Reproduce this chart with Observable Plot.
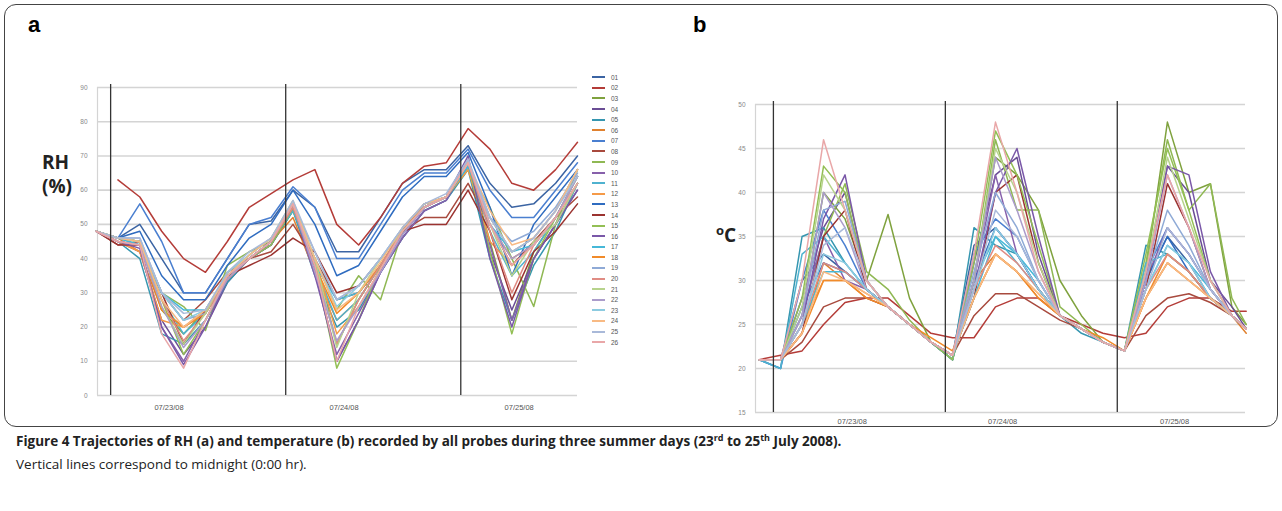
<!DOCTYPE html>
<html><head><meta charset="utf-8">
<script src="https://cdn.jsdelivr.net/npm/d3@7"></script>
<script src="https://cdn.jsdelivr.net/npm/@observablehq/plot@0.6"></script>
<style>
body{margin:0;width:1282px;height:511px;background:#fff;font-family:"Liberation Sans",Arial,sans-serif;position:relative;overflow:hidden}
.abs{position:absolute}
#frame{left:4px;top:4px;width:1272px;height:421px;border:1.5px solid #444;border-radius:12px}
.pl{font-weight:bold;font-size:22px}
.yl{font-family:"Open Sans",sans-serif;font-weight:bold;font-size:19px;line-height:24px;color:#222}
#legend{left:592px;top:72px;font-size:6.5px;color:#555}
#legend div{height:10.6px;display:flex;align-items:center}
#legend span.sw{display:inline-block;width:13px;height:2px;margin-right:6px}
#cap{left:16px;top:425px;font-family:"Open Sans",sans-serif;font-size:13.5px;color:#222;line-height:23px}
</style></head><body>
<div id="frame" class="abs"></div>
<div class="abs pl" style="left:28px;top:12px">a</div>
<div class="abs pl" style="left:693px;top:12px">b</div>
<div class="abs yl" style="left:42px;top:150px">RH<br>(%)</div>
<div class="abs yl" style="left:716px;top:218px"><sup style="font-size:13px">o</sup>C</div>
<div id="pa" class="abs" style="left:60px;top:60px"></div>
<div id="pb" class="abs" style="left:730px;top:90px"></div>
<div id="legend" class="abs"></div>
<div id="cap" class="abs"><b>Figure 4 Trajectories of RH (a) and temperature (b) recorded by all probes during three summer days (23<sup style="font-size:9px">rd</sup> to 25<sup style="font-size:9px">th</sup> July 2008).</b><br>Vertical lines correspond to midnight (0:00 hr).</div>
<script>
const probes = ["01","02","03","04","05","06","07","08","09","10","11","12","13","14","15","16","17","18","19","20","21","22","23","24","25","26"];
const colors = ["#3b64a3","#b43c38","#7fa23e","#6a4d95","#3596b0","#e0812f","#4a7fd0","#a84a3e","#8fb853","#8760ab","#4fb2cf","#f59a48","#2f6cc0","#9b3330","#93bf55","#7a58a8","#46b8d8","#f18b2a","#8faad6","#e08c84","#b7d38c","#ab9ccb","#8ccbe0","#f8ba84","#a9b9d9","#e9a7a8"];
const hoursA = [-2,1,4,7,10,13,16,19,22,25,28,31,34,37,40,43,46,49,52,55,58,61,64];
const rh = [
[48,46,50,40,30,30,40,50,51,60,55,42,42,52,62,66,66,73,62,55,56,62,70],
[null,63,58,48,40,36,45,55,59,63,66,50,44,52,62,67,68,78,72,62,60,66,74],
[48,46,45,25,18,25,35,40,44,54,40,15,28,38,48,55,58,68,45,22,42,52,62],
[48,45,42,22,12,20,33,40,44,55,38,10,22,36,46,54,57,67,42,25,40,50,60],
[48,45,40,18,15,22,33,40,44,54,35,20,25,36,46,54,57,66,40,22,38,48,62],
[48,46,42,25,20,24,34,40,45,52,36,22,28,38,48,56,58,68,50,40,44,52,64],
[48,46,56,45,30,30,40,50,52,61,55,40,40,50,60,65,65,72,60,52,52,60,68],
[48,44,45,30,22,28,36,40,42,50,40,28,30,38,48,52,52,62,50,38,45,52,58],
[48,46,45,30,26,19,38,42,45,54,40,25,35,28,48,56,58,66,55,40,26,50,66],
[48,45,44,20,10,22,34,40,44,55,35,12,24,36,46,54,57,68,44,22,40,50,62],
[48,46,44,28,18,24,34,40,45,54,38,22,28,38,48,55,58,67,48,35,42,52,64],
[48,45,42,22,20,25,34,40,45,55,40,18,26,37,48,55,58,66,45,38,44,52,62],
[48,46,48,35,28,28,38,46,50,60,50,35,38,48,58,64,64,71,55,35,50,58,66],
[48,44,44,30,15,25,35,38,41,46,42,30,32,40,48,50,50,60,48,28,42,48,56],
[48,46,45,28,12,22,35,40,44,55,38,8,22,38,48,55,58,68,42,18,40,52,64],
[48,45,43,20,9,20,34,40,45,56,36,10,22,36,47,55,58,70,40,20,40,50,60],
[48,46,44,30,25,25,35,40,45,56,38,28,30,38,48,55,58,67,50,42,44,52,64],
[48,46,45,25,20,24,34,40,45,55,38,24,30,38,48,56,58,68,52,42,46,54,66],
[48,46,46,30,22,24,35,41,46,56,42,28,32,40,49,56,58,68,52,45,48,55,65],
[48,45,44,28,16,24,34,40,45,55,38,15,28,38,48,55,58,68,48,30,44,52,64],
[48,46,45,26,15,24,36,41,46,57,40,14,30,40,48,55,58,69,50,35,45,50,62],
[48,45,44,26,14,22,34,40,45,56,36,16,26,36,47,55,58,69,50,40,44,52,64],
[48,46,45,30,22,25,36,41,46,56,40,26,32,40,49,56,58,68,52,42,46,54,66],
[48,46,45,28,20,25,35,41,46,56,40,25,30,39,49,56,58,68,54,44,46,54,66],
[48,46,46,30,24,25,36,42,46,57,42,28,32,40,49,56,59,69,52,42,46,54,64],
[48,45,44,18,8,22,35,40,45,56,38,10,26,37,48,55,58,68,50,38,44,52,62]];
const hoursB = [-2,1,4,7,10,13,16,19,22,25,28,31,34,37,40,43,46,49,52,55,58,61,64,66];
const temp = [
[21,21,30,33,31,29,27,25,23,21.5,34,36,33,29,26,24.5,23,22,30,35,32,28,26,24.5],
[21,21.5,22,25,27.5,28,28,26,24,23.5,23.5,27,28,28,26,25,24,23.5,24,27,28,28,26.5,26.5],
[21,21,26,40,37,30,37.5,28,23,21,30,44,42,38,30,26,23,22,31,48,40,41,27,25],
[21,21,28,36,40,30,27,25,23,21,32,42,44,33,26,24.5,23,22,30,43,40,30,27,24.5],
[21,20,35,36,32,29,27,25,23,21,36,34,33,29,26,24,23,22,34,33,31,28,26,24.5],
[21,21,24,32,30,28,27,25,23,21.5,30,33,31,28,26,24.5,23,22,28,32,30,28,26,24],
[21,20,30,38,34,29,27,25,23,21,33,37,35,30,26,24.5,23,22,31,36,33,29,26,24.5],
[21,21,23,27,28,28,27,25,23,21.5,26,28.5,28.5,27,25.5,24.5,23,22,26,28,28.5,27.5,26,24.5],
[21,21,26,35,41,31,29,25.5,23,21,30,46,38,38,27,25,23,22,32,46,38,41,28,25],
[21,21,26,35,30,29,27,25,23,21.5,30,42,33,29,26,24.5,23,22,30,36,33,29,26,24.5],
[21,20,33,35,32,29,27,25,23,21,30,35,32,29,26,24.5,23,22,32,33,31,28,26,24.5],
[21,21,25,30,30,28.5,27,25,23,21.5,28,33,31,28.5,26,24.5,23,22,28,32,30,28,26,24.5],
[21,21,27,32,31,29,27,25,23,21.5,30,36,33,29,26,24.5,23,22,30,35,31,28,26,24.5],
[21,21,24,35,38,29,27,25,23,21.5,28,40,42,32,26,24.5,23,22,29,41,36,29,26,24.5],
[21,21,28,43,40,30,27,25,23,21,32,47,42,34,26,24.5,23,22,33,45,38,30,26,24.5],
[21,21,25,37,42,30,27,25,23,21.5,29,40,45,35,26,24.5,23,22,30,43,42,31,26,24.5],
[21,21,25,31,31,29,27,25,23,21.5,28,35,33,30,26,24.5,23,22,29,34,32,29,26,24.5],
[21,21,24,30,30,28,27,25,23.5,22,28,33,31,28,26,24.5,23.5,22,28,33,31,28,26,24.5],
[21,21,26,38,39,30,27,25,23,21.5,31,40,36,30,26,24.5,23,22,30,38,34,29,26,24.5],
[21,21,25,32,31,29,27,25,23,21.5,29,34,32,29,26,24.5,23,22,29,33,31,28,26,24.5],
[21,21,27,42,38,30,27,25,23,21.5,30,45,40,32,26,24.5,23,22,31,44,37,30,26,24.5],
[21,21,26,40,36,29,27,25,23,21.5,30,44,38,31,26,24.5,23,22,30,42,36,29,26,24.5],
[21,21,25,33,32,29,27,25,23,21.5,29,36,33,29,26,24.5,23,22,29,34,32,28,26,24.5],
[21,21,24,31,30,28.5,27,25,23,21.5,28,33,31,28.5,26,24.5,23,22,28,32,30,28,26,24.5],
[21,21,25,34,36,30,27,25,23,21.5,29,38,35,30,26,24.5,23,22,29,36,33,29,26,24.5],
[21,21,30,46,38,30,27,25,23,21.5,33,48,40,31,26,24.5,23,22,31,42,36,30,26,24.5]];
const midnights = [0,24,48];
const dateLabels = ["07/23/08","07/24/08","07/25/08"];
const dateHoursA = [8,32,56];
const dateHoursB = [11,32,56];
const ticksA = [0,10,20,30,40,50,60,70,80,90];
const ticksB = [15,20,25,30,35,40,45,50];

function tidy(hours, rows){
  const out=[];
  rows.forEach((r,i)=>r.forEach((v,j)=>{ if(v!=null) out.push({p:probes[i],t:hours[j],v}); }));
  return out;
}
const color = {domain:probes, range:colors};
function panel(hours, rows, xdom, ydom, ticks, dh, w, h, m, ldy){
  const data = tidy(hours, rows);
  const labels = dateLabels.map((d,i)=>({d,t:dh[i]}));
  return Plot.plot({
    width:w, height:h, marginLeft:m[0], marginRight:m[1], marginTop:m[2], marginBottom:m[3],
    x:{domain:xdom, axis:null},
    y:{domain:ydom, axis:null},
    color, style:{fontFamily:"Liberation Sans, Arial", overflow:"visible"},
    marks:[
      Plot.ruleY(ticks,{stroke:"#d4d4d4",strokeWidth:1.6}),
      Plot.ruleX([xdom[0]],{stroke:"#d4d4d4",strokeWidth:1.2}),
      Plot.text(ticks,{x:xdom[0],y:d=>d,text:d=>String(d),dx:-10,textAnchor:"end",fontSize:6.5,fill:"#888"}),
      Plot.line(data,{x:"t",y:"v",z:"p",stroke:"p",strokeWidth:1.5,strokeLinejoin:"round"}),
      Plot.ruleX(midnights,{y1:ydom[0],y2:ydom[1]+(ydom[1]-ydom[0])*0.01,stroke:"#333",strokeWidth:1.3}),
      Plot.text(labels,{x:"t",y:ydom[0],text:"d",dy:ldy,fontSize:7.5,fill:"#555"})
    ]
  });
}
document.getElementById("pa").append(panel(hoursA, rh, [-1.8,64], [0,90], ticksA, dateHoursA, 540, 360, [37,23,27,25], 12));
document.getElementById("pb").append(panel(hoursB, temp, [-2.5,65.9], [15,50], ticksB, dateHoursB, 530, 340, [25,15,14,18], 9));
const lg=document.getElementById("legend");
probes.forEach((p,i)=>{const d=document.createElement("div");d.innerHTML=`<span class="sw" style="background:${colors[i]}"></span>${p}`;lg.append(d);});
</script>
</body></html>
